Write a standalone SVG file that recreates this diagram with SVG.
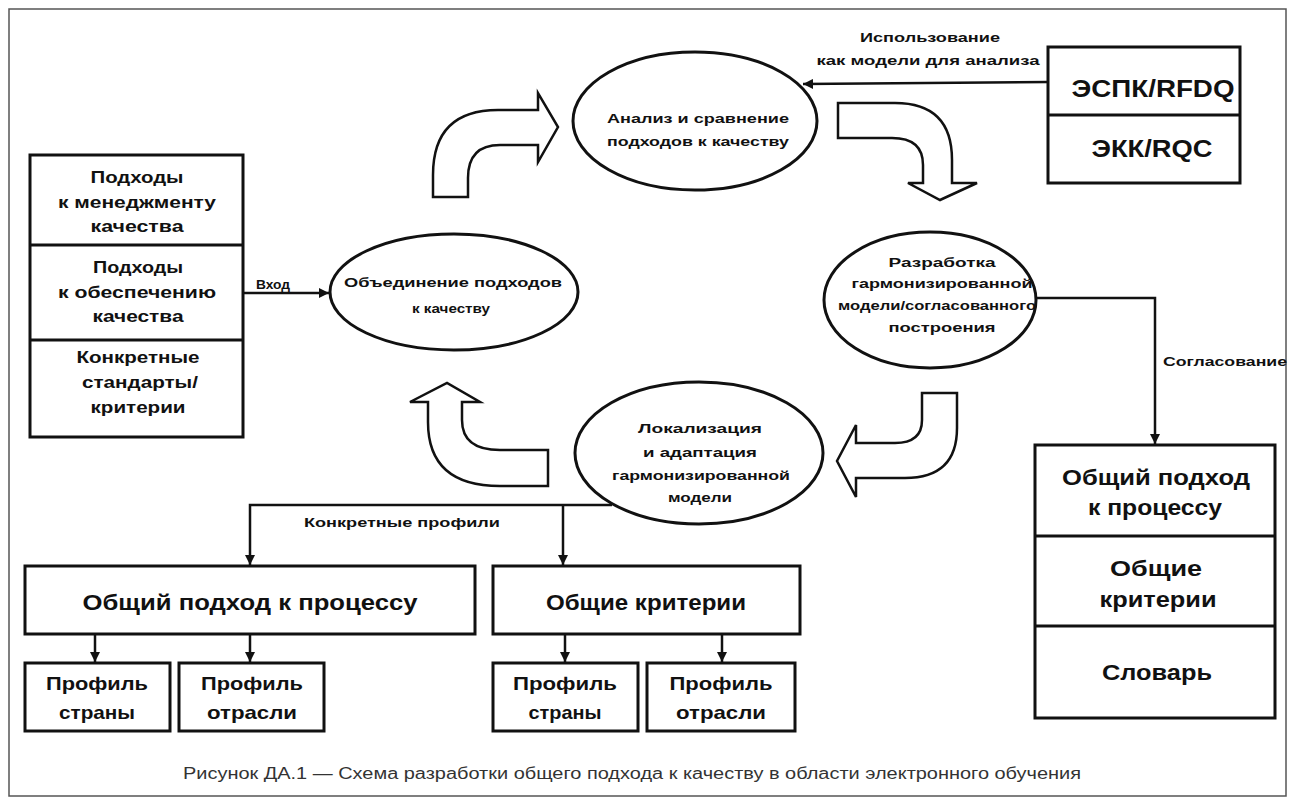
<svg xmlns="http://www.w3.org/2000/svg" width="1295" height="804" viewBox="0 0 1295 804">
<defs>
<marker id="ah" markerUnits="userSpaceOnUse" markerWidth="10" markerHeight="10" refX="10" refY="5" orient="auto">
<path d="M0,0 L10,5 L0,10 z" fill="#111"/>
</marker>
<style>
.box{fill:#fff;stroke:#111;stroke-width:3}
.ell{fill:#fff;stroke:#111;stroke-width:3}
.blk{fill:#fff;stroke:#111;stroke-width:2.5;stroke-linejoin:miter}
.con{fill:none;stroke:#111;stroke-width:2.5}
text{font-family:"Liberation Sans",Arial,sans-serif;font-weight:bold;fill:#111;text-anchor:middle}
.s{font-size:13px}
.m{font-size:16px}
.p{font-size:19px}
.L{font-size:22px}
.X{font-size:24px}
.cap{font-weight:normal;font-size:16px;fill:#333}
</style>
</defs>
<rect x="0" y="0" width="1295" height="804" fill="#fff"/>
<rect x="9" y="9" width="1277" height="787" fill="none" stroke="#555" stroke-width="1.5"/>

<g id="connectors">
<line class="con" x1="243" y1="293" x2="329" y2="293" marker-end="url(#ah)"/>
<line class="con" x1="1048" y1="82" x2="803" y2="84" marker-end="url(#ah)"/>
<polyline class="con" points="1035,298 1155,298 1155,444" marker-end="url(#ah)"/>
<polyline class="con" points="612,505 250,505 250,565" marker-end="url(#ah)"/>
<line class="con" x1="563" y1="505" x2="563" y2="565" marker-end="url(#ah)"/>
<line class="con" x1="95" y1="634" x2="95" y2="662" marker-end="url(#ah)"/>
<line class="con" x1="250" y1="634" x2="250" y2="662" marker-end="url(#ah)"/>
<line class="con" x1="565" y1="634" x2="565" y2="662" marker-end="url(#ah)"/>
<line class="con" x1="722" y1="634" x2="722" y2="662" marker-end="url(#ah)"/>
<path class="blk" d="M433,197 L433,175 Q433,110 498,110 L538,110 L538,93 L558,127 L538,162 L538,145 L500,145 Q468,145 468,178 L468,197 Z"/>
<path class="blk" d="M838,103 L895,103 Q952,103 952,160 L952,183 L977,183 L940,200 L908,183 L923,183 L923,165 Q923,138 892,138 L838,138 Z"/>
<path class="blk" d="M957,393 L957,428 Q957,478 905,478 L856,478 L856,497 L837,461 L856,425 L856,443 L895,443 Q922,443 922,420 L922,393 Z"/>
<path class="blk" d="M548,450 L548,486 L500,486 Q428,486 428,422 L428,402 L410,402 L447,383 L480,402 L462,402 L462,420 Q462,450 500,450 Z"/>
<text class="s" x="273" y="289" textLength="34" lengthAdjust="spacingAndGlyphs">Вход</text>
<text class="s" x="930" y="42" textLength="140" lengthAdjust="spacingAndGlyphs">Использование</text>
<text class="s" x="928" y="65" textLength="223" lengthAdjust="spacingAndGlyphs">как модели для анализа</text>
<text class="s" x="1163" y="366" style="text-anchor:start" textLength="124" lengthAdjust="spacingAndGlyphs">Согласование</text>
<text class="s" x="402" y="527" textLength="196" lengthAdjust="spacingAndGlyphs">Конкретные профили</text>
</g>

<g id="inputs">
<rect class="box" x="30" y="155" width="213" height="282"/>
<line class="box" x1="30" y1="245" x2="243" y2="245"/>
<line class="box" x1="30" y1="340" x2="243" y2="340"/>
<text class="m" x="137" y="183" textLength="93" lengthAdjust="spacingAndGlyphs">Подходы</text>
<text class="m" x="137" y="208" textLength="158" lengthAdjust="spacingAndGlyphs">к менеджменту</text>
<text class="m" x="137" y="232" textLength="93" lengthAdjust="spacingAndGlyphs">качества</text>
<text class="m" x="138" y="273" textLength="90" lengthAdjust="spacingAndGlyphs">Подходы</text>
<text class="m" x="137" y="298" textLength="158" lengthAdjust="spacingAndGlyphs">к обеспечению</text>
<text class="m" x="138" y="322" textLength="91" lengthAdjust="spacingAndGlyphs">качества</text>
<text class="m" x="138" y="363" textLength="123" lengthAdjust="spacingAndGlyphs">Конкретные</text>
<text class="m" x="140" y="388" textLength="116" lengthAdjust="spacingAndGlyphs">стандарты/</text>
<text class="m" x="138" y="413" textLength="95" lengthAdjust="spacingAndGlyphs">критерии</text>
</g>

<g id="merge">
<ellipse class="ell" cx="454" cy="292" rx="124" ry="58"/>
<text class="s" x="453" y="287" textLength="218" lengthAdjust="spacingAndGlyphs">Объединение подходов</text>
<text class="s" x="451" y="313" textLength="78" lengthAdjust="spacingAndGlyphs">к качеству</text>
</g>

<g id="analysis">
<ellipse class="ell" cx="695" cy="121" rx="122" ry="69"/>
<text class="s" x="698" y="123" textLength="182" lengthAdjust="spacingAndGlyphs">Анализ и сравнение</text>
<text class="s" x="698" y="146" textLength="182" lengthAdjust="spacingAndGlyphs">подходов к качеству</text>
</g>

<g id="references">
<rect class="box" x="1048" y="47" width="192" height="136"/>
<line class="box" x1="1048" y1="115" x2="1240" y2="115"/>
<text class="X" x="1153" y="97" textLength="163" lengthAdjust="spacingAndGlyphs">ЭСПК/RFDQ</text>
<text class="X" x="1152" y="157" textLength="121" lengthAdjust="spacingAndGlyphs">ЭКК/RQC</text>
</g>

<g id="harmonize">
<ellipse class="ell" cx="930" cy="300" rx="106" ry="68"/>
<text class="s" x="942" y="267" textLength="107" lengthAdjust="spacingAndGlyphs">Разработка</text>
<text class="s" x="942" y="288" textLength="181" lengthAdjust="spacingAndGlyphs">гармонизированной</text>
<text class="s" x="937" y="310" textLength="198" lengthAdjust="spacingAndGlyphs">модели/согласованного</text>
<text class="s" x="942" y="332" textLength="107" lengthAdjust="spacingAndGlyphs">построения</text>
</g>

<g id="localize">
<ellipse class="ell" cx="699" cy="453" rx="124" ry="71"/>
<text class="s" x="700" y="433" textLength="124" lengthAdjust="spacingAndGlyphs">Локализация</text>
<text class="s" x="700" y="457" textLength="114" lengthAdjust="spacingAndGlyphs">и адаптация</text>
<text class="s" x="701" y="480" textLength="178" lengthAdjust="spacingAndGlyphs">гармонизированной</text>
<text class="s" x="700" y="502" textLength="64" lengthAdjust="spacingAndGlyphs">модели</text>
</g>

<g id="result">
<rect class="box" x="1035" y="445" width="240" height="273"/>
<line class="box" x1="1035" y1="536" x2="1275" y2="536"/>
<line class="box" x1="1035" y1="626" x2="1275" y2="626"/>
<text class="L" x="1156" y="485" textLength="188" lengthAdjust="spacingAndGlyphs">Общий подход</text>
<text class="L" x="1155" y="515" textLength="134" lengthAdjust="spacingAndGlyphs">к процессу</text>
<text class="L" x="1156" y="576" textLength="92" lengthAdjust="spacingAndGlyphs">Общие</text>
<text class="L" x="1158" y="607" textLength="117" lengthAdjust="spacingAndGlyphs">критерии</text>
<text class="L" x="1157" y="680" textLength="110" lengthAdjust="spacingAndGlyphs">Словарь</text>
</g>

<g id="process">
<rect class="box" x="25" y="566" width="450" height="68"/>
<text class="L" x="250" y="610" textLength="335" lengthAdjust="spacingAndGlyphs">Общий подход к процессу</text>
</g>
<g id="criteria">
<rect class="box" x="493" y="566" width="307" height="68"/>
<text class="L" x="646" y="610" textLength="200" lengthAdjust="spacingAndGlyphs">Общие критерии</text>
</g>
<g id="p-country-1">
<rect class="box" x="25" y="663" width="145" height="68"/>
<text class="p" x="97" y="690" textLength="102" lengthAdjust="spacingAndGlyphs">Профиль</text>
<text class="p" x="97" y="719" textLength="76" lengthAdjust="spacingAndGlyphs">страны</text>
</g>
<g id="p-sector-1">
<rect class="box" x="179" y="663" width="145" height="68"/>
<text class="p" x="252" y="690" textLength="102" lengthAdjust="spacingAndGlyphs">Профиль</text>
<text class="p" x="252" y="719" textLength="90" lengthAdjust="spacingAndGlyphs">отрасли</text>
</g>
<g id="p-country-2">
<rect class="box" x="493" y="663" width="145" height="68"/>
<text class="p" x="565" y="690" textLength="104" lengthAdjust="spacingAndGlyphs">Профиль</text>
<text class="p" x="565" y="719" textLength="73" lengthAdjust="spacingAndGlyphs">страны</text>
</g>
<g id="p-sector-2">
<rect class="box" x="647" y="663" width="148" height="68"/>
<text class="p" x="721" y="690" textLength="103" lengthAdjust="spacingAndGlyphs">Профиль</text>
<text class="p" x="721" y="719" textLength="90" lengthAdjust="spacingAndGlyphs">отрасли</text>
</g>

<text class="cap" x="632" y="779" textLength="898" lengthAdjust="spacingAndGlyphs">Рисунок ДА.1 — Схема разработки общего подхода к качеству в области электронного обучения</text>
</svg>
